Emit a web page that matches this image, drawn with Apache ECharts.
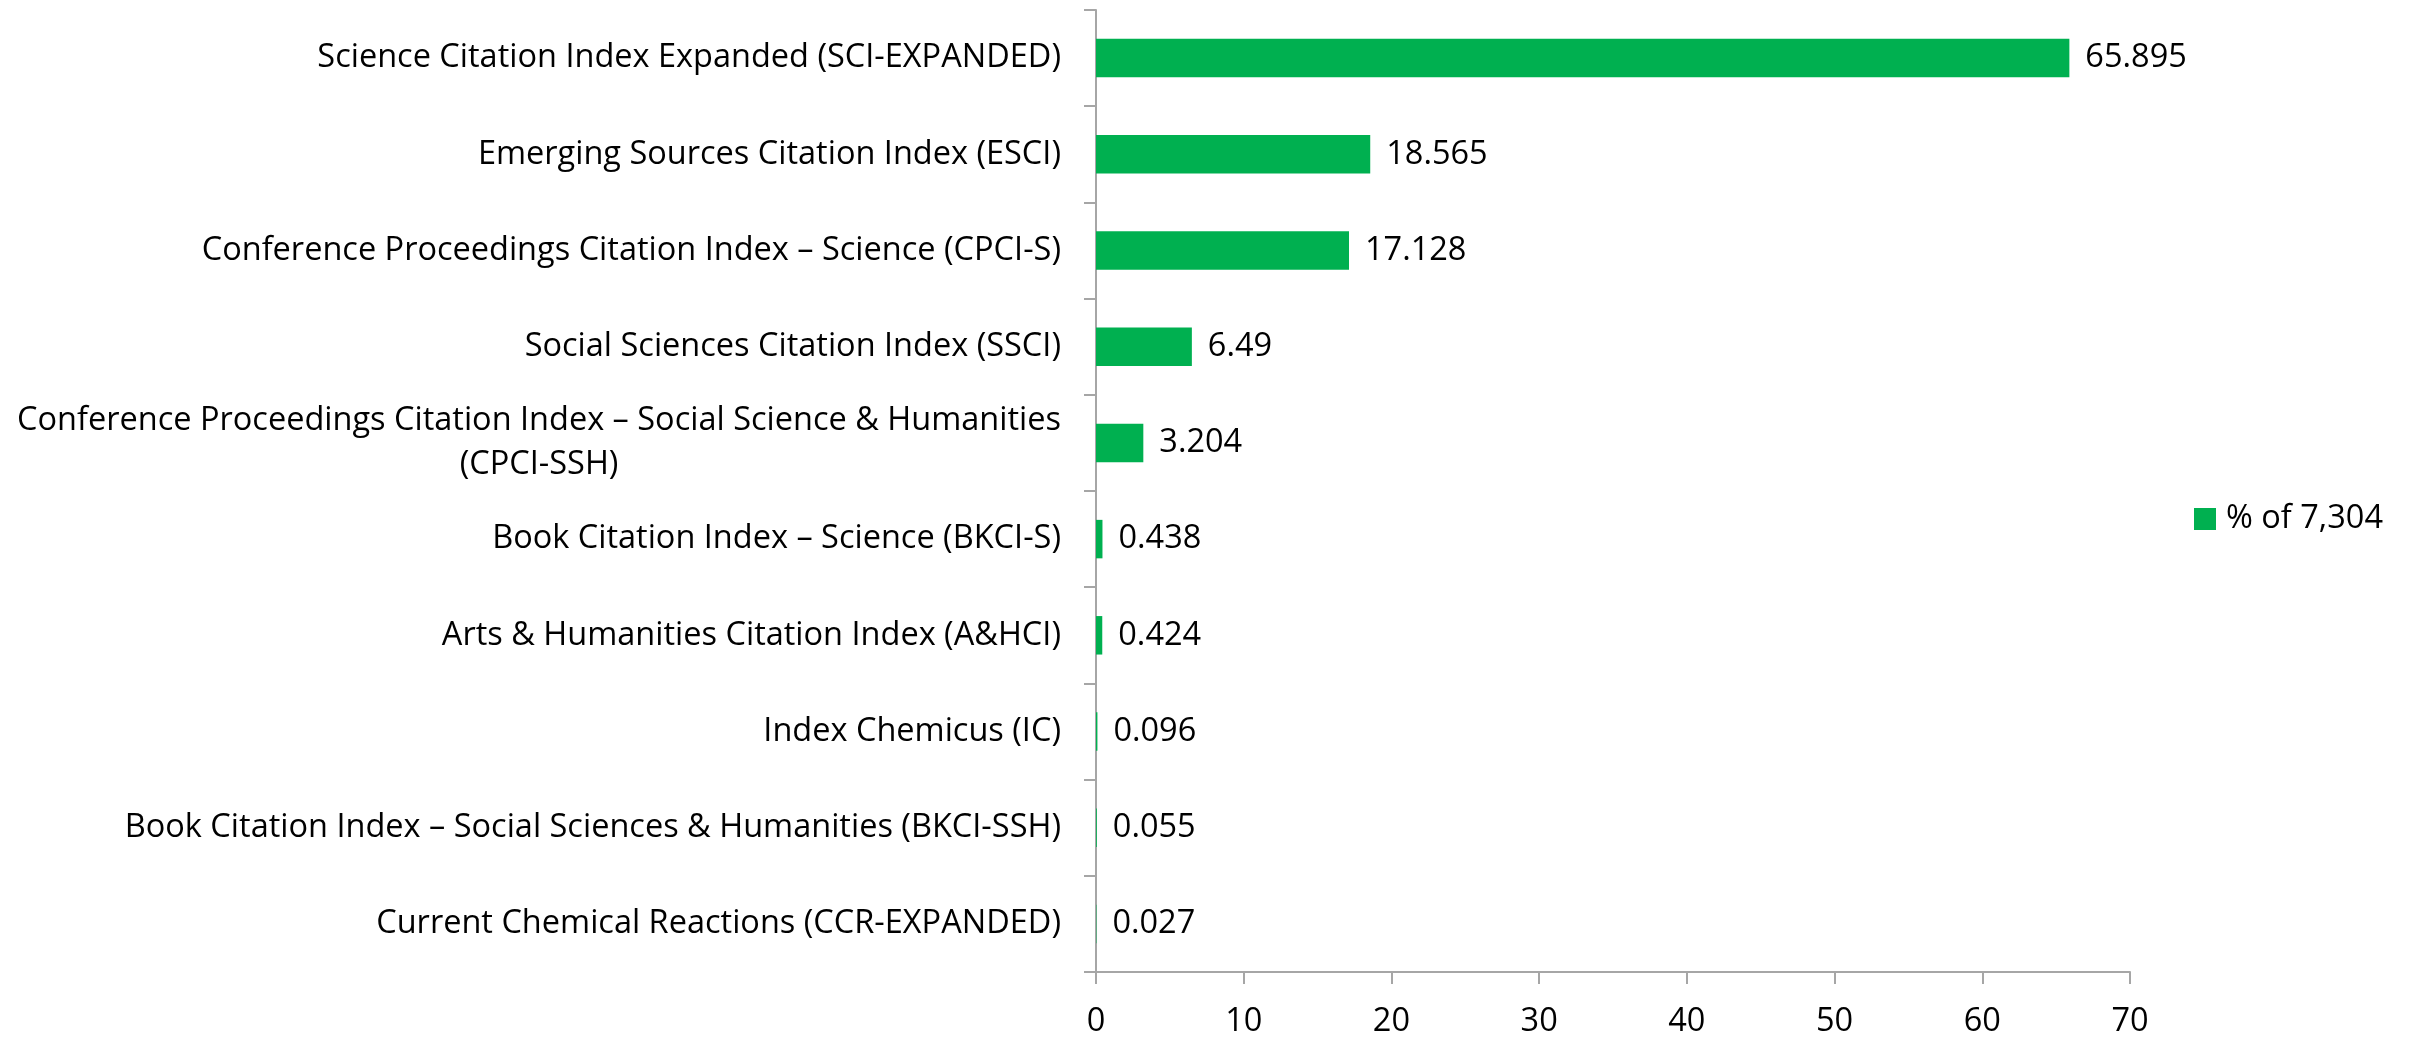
<!DOCTYPE html>
<html>
<head>
<meta charset="utf-8">
<script src="https://cdn.jsdelivr.net/npm/echarts@6/dist/echarts.min.js"></script>
<style>
  html, body { margin: 0; padding: 0; background: #fff; }
  #chart { width: 2410px; height: 1038px; }
</style>
</head>
<body>
<div id="chart"></div>
<script>
// data
var categories = [
  'Science Citation Index Expanded (SCI-EXPANDED)',
  'Emerging Sources Citation Index (ESCI)',
  'Conference Proceedings Citation Index – Science (CPCI-S)',
  'Social Sciences Citation Index (SSCI)',
  'Conference Proceedings Citation Index – Social Science & Humanities\n(CPCI-SSH)',
  'Book Citation Index – Science (BKCI-S)',
  'Arts & Humanities Citation Index (A&HCI)',
  'Index Chemicus (IC)',
  'Book Citation Index – Social Sciences & Humanities (BKCI-SSH)',
  'Current Chemical Reactions (CCR-EXPANDED)'
]
var percentValues = [65.895, 18.565, 17.128, 6.49, 3.204, 0.438, 0.424, 0.096, 0.055, 0.027]
var seriesName = '% of 7,304'

var fontFamily = 'Open Sans'
var fontSize = 32.5
var axisColor = '#a6a6a6'

var chart = echarts.init(document.getElementById('chart'))
var option = {
  animation: false,
  grid: {
    left: 1096,
    right: 280,
    top: 10,
    bottom: 65,
    containLabel: false
  },
  legend: {
    data: [seriesName],
    orient: 'vertical',
    left: 2189,
    top: 'middle',
    icon: 'rect',
    itemWidth: 22,
    itemHeight: 22,
    textStyle: {
      fontFamily: fontFamily,
      fontSize: fontSize,
      color: '#000',
      padding: [0, 0, 0, 5]
    }
  },
  xAxis: {
    type: 'value',
    min: 0,
    max: 70,
    interval: 10,
    splitLine: { show: false },
    axisLine: { show: true, lineStyle: { color: axisColor, width: 2 } },
    axisTick: { show: true, length: 12, lineStyle: { color: axisColor, width: 2 } },
    axisLabel: {
      margin: 33,
      color: '#000',
      fontFamily: fontFamily,
      fontSize: fontSize
    }
  },
  yAxis: {
    type: 'category',
    inverse: true,
    data: categories,
    axisLine: { show: true, lineStyle: { color: axisColor, width: 2 } },
    axisTick: { show: true, length: 12, lineStyle: { color: axisColor, width: 2 } },
    axisLabel: {
      margin: 35,
      color: '#000',
      fontFamily: fontFamily,
      fontSize: fontSize,
      lineHeight: 44,
      formatter: function (value) {
        // wrapped labels are centred line by line like the original
        return value.split('\n').map(function (line) {
          return '{c|' + line + '}'
        }).join('\n')
      },
      rich: {
        c: {
          align: 'center',
          fontFamily: fontFamily,
          fontSize: fontSize,
          lineHeight: 44,
          color: '#000'
        }
      }
    }
  },
  series: [
    {
      name: seriesName,
      type: 'bar',
      data: percentValues,
      barCategoryGap: '60%',
      itemStyle: { color: '#00b050' },
      label: {
        show: true,
        position: 'right',
        distance: 16,
        color: '#000',
        fontFamily: fontFamily,
        fontSize: fontSize
      }
    }
  ]
}
chart.setOption(option)
</script>
</body>
</html>
